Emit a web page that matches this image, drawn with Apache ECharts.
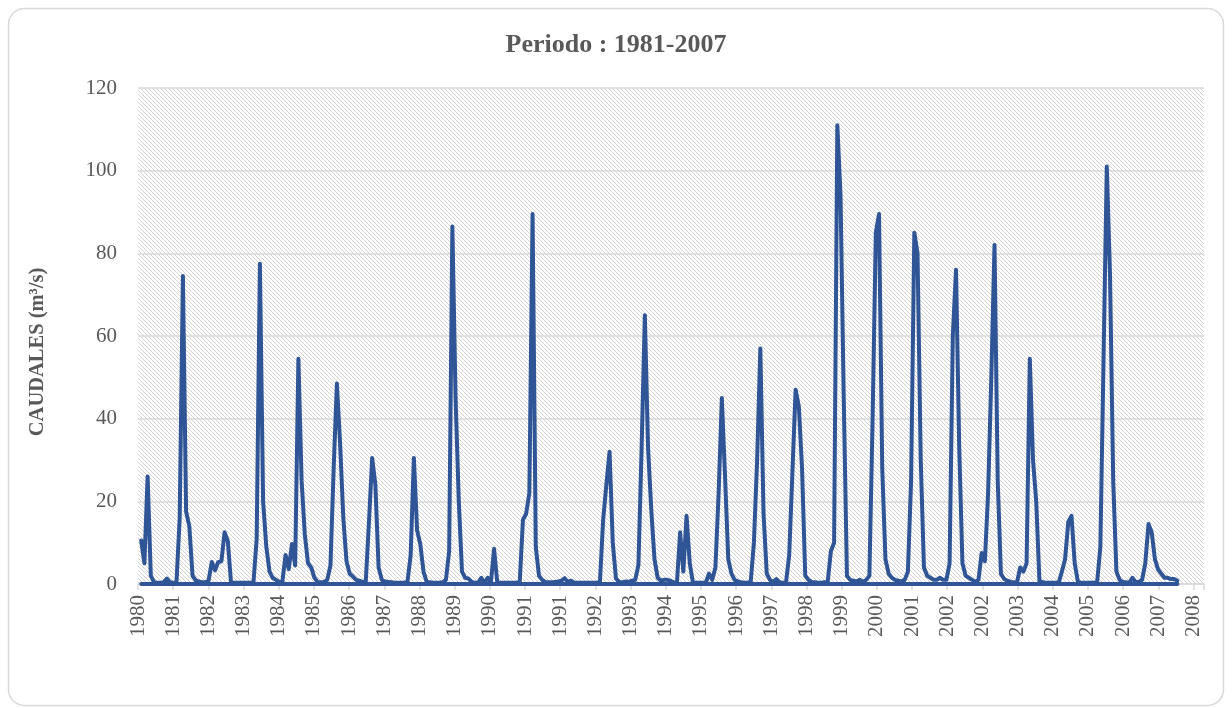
<!DOCTYPE html>
<html>
<head>
<meta charset="utf-8">
<title>Caudales 1981-2007</title>
<script src="https://cdn.jsdelivr.net/npm/echarts@6/dist/echarts.min.js"></script>
<style>
  html, body { margin: 0; padding: 0; background: #fff; }
  #chart { width: 1232px; height: 708px; }
</style>
</head>
<body>
<div id="chart"></div>
<script>
// monthly flows (m3/s), Jan..Dec
var q1981 = [10.5, 5, 26, 2, 0.4, 0.3, 0.3, 0.4, 1.3, 0.4, 0.3, 0.4];
var q1982 = [16, 74.5, 17.5, 14, 2, 0.9, 0.6, 0.4, 0.4, 0.8, 5.3, 3.3];
var q1983 = [5.3, 5.5, 12.5, 10.4, 0.3, 0.3, 0.3, 0.3, 0.3, 0.3, 0.3, 0.4];
var q1984 = [11, 77.5, 20, 9, 3, 1.5, 1, 0.5, 0.5, 7, 3.6, 9.7];
var q1985 = [4.5, 54.5, 25, 12, 5, 4, 1.5, 0.5, 0.4, 0.5, 1, 4.5];
var q1986 = [28, 48.5, 34, 16, 5.5, 2.5, 1.8, 1, 0.8, 0.5, 0.5, 15];
var q1987 = [30.5, 24, 4, 1, 0.6, 0.5, 0.4, 0.3, 0.3, 0.3, 0.3, 0.5];
var q1988 = [7, 30.5, 13, 9.6, 3, 0.5, 0.4, 0.3, 0.3, 0.3, 0.4, 1];
var q1989 = [8, 86.5, 45, 20, 3, 1.5, 1.3, 0.5, 0.3, 0.3, 1.5, 0.3];
var q1990 = [1.5, 0.3, 8.5, 0.3, 0.3, 0.3, 0.3, 0.3, 0.3, 0.3, 0.5, 15.5];
var q1991 = [17, 22, 89.5, 9, 2, 1, 0.5, 0.4, 0.4, 0.5, 0.6, 0.8];
var q1992 = [1.4, 0.5, 0.8, 0.3, 0.3, 0.3, 0.3, 0.3, 0.3, 0.3, 0.3, 0.5];
var q1993 = [15.5, 24, 32, 10, 1.3, 0.5, 0.4, 0.6, 0.5, 0.8, 1, 4.6];
var q1994 = [33, 65, 33, 18, 6, 1.5, 0.8, 1, 1, 0.8, 0.4, 0.3];
var q1995 = [12.5, 3, 16.5, 5, 0.3, 0.3, 0.3, 0.3, 0.3, 2.5, 1, 4];
var q1996 = [22, 45, 26, 6, 2.5, 1, 0.6, 0.4, 0.3, 0.3, 0.5, 10];
var q1997 = [30, 57, 17, 2.5, 1, 0.5, 1.2, 0.4, 0.3, 0.3, 7, 27];
var q1998 = [47, 43, 28, 2, 1, 0.5, 0.4, 0.3, 0.3, 0.4, 0.5, 8];
var q1999 = [10, 111, 94, 45, 2, 1, 0.8, 0.6, 1, 0.5, 1, 2];
var q2000 = [40, 85, 89.5, 28, 6, 2.5, 1.5, 1, 0.8, 0.6, 1, 3];
var q2001 = [25, 85, 80, 30, 4, 2, 1.5, 1, 1, 1.5, 1, 1];
var q2002 = [5, 60, 76, 33, 5, 2, 1.5, 1, 0.5, 1, 7.5, 5.5];
var q2003 = [22, 50, 82, 25, 2.5, 1.2, 0.8, 0.5, 0.4, 0.3, 4, 3];
var q2004 = [5, 54.5, 30, 20, 0.8, 0.4, 0.3, 0.3, 0.3, 0.3, 0.3, 3];
var q2005 = [6, 15, 16.5, 5, 0.5, 0.3, 0.3, 0.3, 0.3, 0.3, 0.5, 9];
var q2006 = [55, 101, 75, 25, 3, 1, 0.5, 0.4, 0.3, 1.5, 0.5, 0.5];
var q2007 = [1, 5, 14.5, 12.5, 6, 3.5, 2.5, 1.5, 1.5, 1.2, 1.2, 0.8];

// x axis labels as Excel printed them (one every ~11 months)
var xTickLabels = ['1980', '1981', '1982', '1983', '1984', '1985', '1986', '1987',
  '1988', '1989', '1990', '1991', '1991', '1992', '1993', '1994', '1995', '1996',
  '1997', '1998', '1999', '2000', '2001', '2002', '2002', '2003', '2004', '2005',
  '2006', '2007', '2008'];

var yTicks = [0, 20, 40, 60, 80, 100, 120];

// axis runs in "label steps"; a month is a fraction of a step
var MONTHS_PER_STEP = 10.967;
var FIRST_MONTH_AT = 0.091;

var flows = [].concat(q1981, q1982, q1983, q1984, q1985, q1986, q1987, q1988, q1989,
  q1990, q1991, q1992, q1993, q1994, q1995, q1996, q1997, q1998, q1999, q2000,
  q2001, q2002, q2003, q2004, q2005, q2006, q2007);

var points = flows.map(function (v, i) {
  return [FIRST_MONTH_AT + i / MONTHS_PER_STEP, v];
});
var baseLine = [[points[0][0], 0], [points[points.length - 1][0], 0]];

// light diagonal hatch used as plot background
var hatch = document.createElement('canvas');
hatch.width = 4;
hatch.height = 4;
var hctx = hatch.getContext('2d');
hctx.fillStyle = '#ffffff';
hctx.fillRect(0, 0, 4, 4);
hctx.fillStyle = '#d2d2d2';
for (var i = 0; i < 4; i++) {
  hctx.fillRect(i, i, 1, 1);
}

var blue = '#2F5597';
var grey = '#595959';
var serif = 'Liberation Serif';

var chart = echarts.init(document.getElementById('chart'), null, { renderer: 'canvas' });

var option = {
  backgroundColor: '#ffffff',
  animation: false,
  graphic: [{
    type: 'rect',
    shape: { x: 8.5, y: 8.5, width: 1215, height: 697, r: 16 },
    style: { fill: 'none', stroke: '#d9d9d9', lineWidth: 1.5 },
    z: -10
  }],
  title: {
    text: 'Periodo : 1981-2007',
    left: 'center',
    top: 27,
    textStyle: { fontFamily: serif, fontSize: 26, fontWeight: 'bold', color: grey }
  },
  grid: {
    show: true,
    left: 138,
    right: 28,
    top: 88,
    bottom: 124,
    borderWidth: 0,
    backgroundColor: { image: hatch, repeat: 'repeat' }
  },
  xAxis: {
    type: 'value',
    min: 0,
    max: 30.3,
    interval: 1,
    axisLine: { show: true, onZero: false, lineStyle: { color: '#d9d9d9', width: 1.5 } },
    axisTick: { show: true, length: 6, lineStyle: { color: '#d9d9d9', width: 1.5 } },
    splitLine: { show: false },
    axisLabel: {
      rotate: 90,
      margin: 11,
      color: grey,
      fontFamily: serif,
      fontSize: 21,
      formatter: function (v) {
        return Number.isInteger(v) && xTickLabels[v] ? xTickLabels[v] : '';
      }
    }
  },
  yAxis: {
    type: 'value',
    min: yTicks[0],
    max: yTicks[yTicks.length - 1],
    interval: yTicks[1] - yTicks[0],
    name: 'CAUDALES (m³/s)',
    nameLocation: 'middle',
    nameGap: 90,
    nameTextStyle: {
      fontFamily: serif, fontSize: 20.5, fontWeight: 'bold', color: grey,
      padding: [0, 32, 0, 0]
    },
    axisLine: { show: false },
    axisTick: { show: false },
    splitLine: { lineStyle: { color: '#d9d9d9', width: 1.5 } },
    axisLabel: { margin: 21, color: grey, fontFamily: serif, fontSize: 21 }
  },
  series: [{
    name: 'base',
    type: 'line',
    data: baseLine,
    showSymbol: false,
    silent: true,
    lineStyle: { color: blue, width: 4, cap: 'round' },
    z: 2
  }, {
    name: 'Caudal',
    type: 'line',
    data: points,
    showSymbol: false,
    lineStyle: { color: blue, width: 4, join: 'round', cap: 'round' },
    z: 3
  }]
};

chart.setOption(option);
</script>
</body>
</html>
